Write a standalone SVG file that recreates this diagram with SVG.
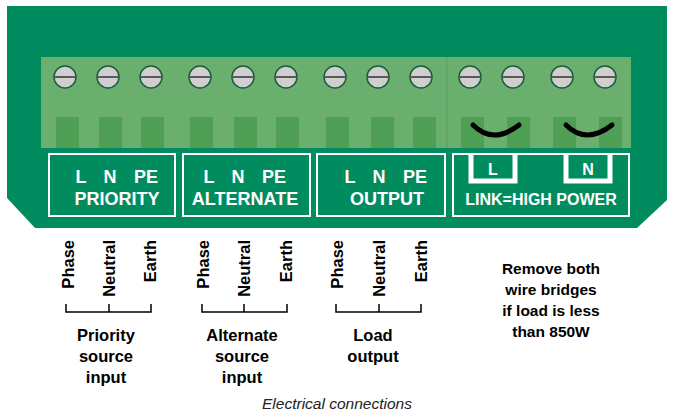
<svg xmlns="http://www.w3.org/2000/svg" width="673" height="418" viewBox="0 0 673 418">
<style>
.w{fill:#fff;font-family:"Liberation Sans",Arial,sans-serif;font-weight:bold;font-size:18px;text-anchor:middle}
.b{fill:#000;font-family:"Liberation Sans",Arial,sans-serif;font-weight:bold;font-size:16.5px}
.m{text-anchor:middle}
.r{text-anchor:end}
.box{fill:none;stroke:#fff;stroke-width:2}
.sc{fill:#cfcfcf;stroke:#1d5b3c;stroke-width:1.5}
.pin{fill:#4f9f57}
.ln{stroke:#000;stroke-width:1.5;fill:none}
</style>
<defs>
<g id="screw"><circle r="11" class="sc"/><line x1="-10" y1="0" x2="10" y2="0" stroke="#333" stroke-width="1.5"/></g>
</defs>
<path d="M7 6 H667 V200 L637 228 H35 L7 198 Z" fill="#008c5e"/>
<g id="block">
<rect x="41" y="57" width="590" height="91" fill="#6aaf6e"/>
<line x1="447" y1="57" x2="447" y2="148" stroke="#5a9f60" stroke-width="1"/>
<g class="pin">
<rect x="56" y="117" width="23" height="31"/><rect x="99" y="117" width="23" height="31"/><rect x="141" y="117" width="23" height="31"/>
<rect x="190" y="117" width="23" height="31"/><rect x="234" y="117" width="23" height="31"/><rect x="276" y="117" width="23" height="31"/>
<rect x="326" y="117" width="23" height="31"/><rect x="371" y="117" width="23" height="31"/><rect x="413" y="117" width="23" height="31"/>
<rect x="461" y="117" width="23" height="31"/><rect x="507" y="117" width="23" height="31"/><rect x="553" y="117" width="23" height="31"/><rect x="599" y="117" width="23" height="31"/>
</g>
<use href="#screw" x="65" y="77"/><use href="#screw" x="108" y="77"/><use href="#screw" x="151" y="77"/>
<use href="#screw" x="200" y="77"/><use href="#screw" x="243" y="77"/><use href="#screw" x="286" y="77"/>
<use href="#screw" x="335" y="77"/><use href="#screw" x="378" y="77"/><use href="#screw" x="421" y="77"/>
<use href="#screw" x="470" y="77"/><use href="#screw" x="513" y="77"/><use href="#screw" x="562" y="77"/><use href="#screw" x="605" y="77"/>
<path d="M473 125 Q493 145 519 125" stroke="#000" stroke-width="5" fill="none" stroke-linecap="round"/>
<path d="M566 125 Q586 145 612 125" stroke="#000" stroke-width="5" fill="none" stroke-linecap="round"/>
</g>
<g id="priority"><rect x="49" y="154" width="126" height="62" class="box"/><text x="81" y="183" class="w">L</text><text x="110" y="183" class="w">N</text><text x="146" y="183" class="w">PE</text><text x="117" y="205" class="w">PRIORITY</text></g>
<g id="alternate"><rect x="183" y="154" width="127" height="62" class="box"/><text x="209" y="183" class="w">L</text><text x="238" y="183" class="w">N</text><text x="274" y="183" class="w">PE</text><text x="245" y="205" class="w">ALTERNATE</text></g>
<g id="output"><rect x="317" y="154" width="128" height="62" class="box"/><text x="350" y="183" class="w">L</text><text x="379" y="183" class="w">N</text><text x="415" y="183" class="w">PE</text><text x="387" y="205" class="w">OUTPUT</text></g>
<g id="link"><rect x="453" y="154" width="176" height="62" class="box"/>
<path d="M471 154 V181 H515 V154" fill="none" stroke="#fff" stroke-width="5"/>
<path d="M566 154 V181 H610 V154" fill="none" stroke="#fff" stroke-width="5"/>
<text x="493" y="175" class="w" style="font-size:16px">L</text><text x="588" y="175" class="w" style="font-size:16px">N</text>
<text x="541" y="205" class="w" style="font-size:16px">LINK=HIGH POWER</text></g>
<g id="labels">
<text class="b r" transform="translate(74 240) rotate(-90)">Phase</text><text class="b r" transform="translate(115 240) rotate(-90)">Neutral</text><text class="b r" transform="translate(156 240) rotate(-90)">Earth</text>
<text class="b r" transform="translate(209 240) rotate(-90)">Phase</text><text class="b r" transform="translate(250 240) rotate(-90)">Neutral</text><text class="b r" transform="translate(292 240) rotate(-90)">Earth</text>
<text class="b r" transform="translate(343 240) rotate(-90)">Phase</text><text class="b r" transform="translate(385 240) rotate(-90)">Neutral</text><text class="b r" transform="translate(427 240) rotate(-90)">Earth</text>
</g>
<g id="connectors">
<path class="ln" d="M66 304 V312 H151 V304 M109 304 V312"/>
<path class="ln" d="M202 304 V312 H287 V304 M244 304 V312"/>
<path class="ln" d="M336 304 V312 H421 V304 M379 304 V312"/>
</g>
<g id="captions">
<text x="106" y="341" class="b m">Priority</text><text x="106" y="362" class="b m">source</text><text x="106" y="383" class="b m">input</text>
<text x="242" y="341" class="b m">Alternate</text><text x="242" y="362" class="b m">source</text><text x="242" y="383" class="b m">input</text>
<text x="373" y="341" class="b m">Load</text><text x="373" y="362" class="b m">output</text>
<text x="551" y="274" class="b m" style="font-size:15.5px">Remove both</text><text x="551" y="295" class="b m" style="font-size:15.5px">wire bridges</text><text x="551" y="316" class="b m" style="font-size:15.5px">if load is less</text><text x="551" y="337" class="b m" style="font-size:15.5px">than 850W</text>
</g>
<text x="337" y="409" style="font-family:'Liberation Sans',Arial,sans-serif;font-style:italic;font-size:15.5px;text-anchor:middle;fill:#222">Electrical connections</text>
</svg>
